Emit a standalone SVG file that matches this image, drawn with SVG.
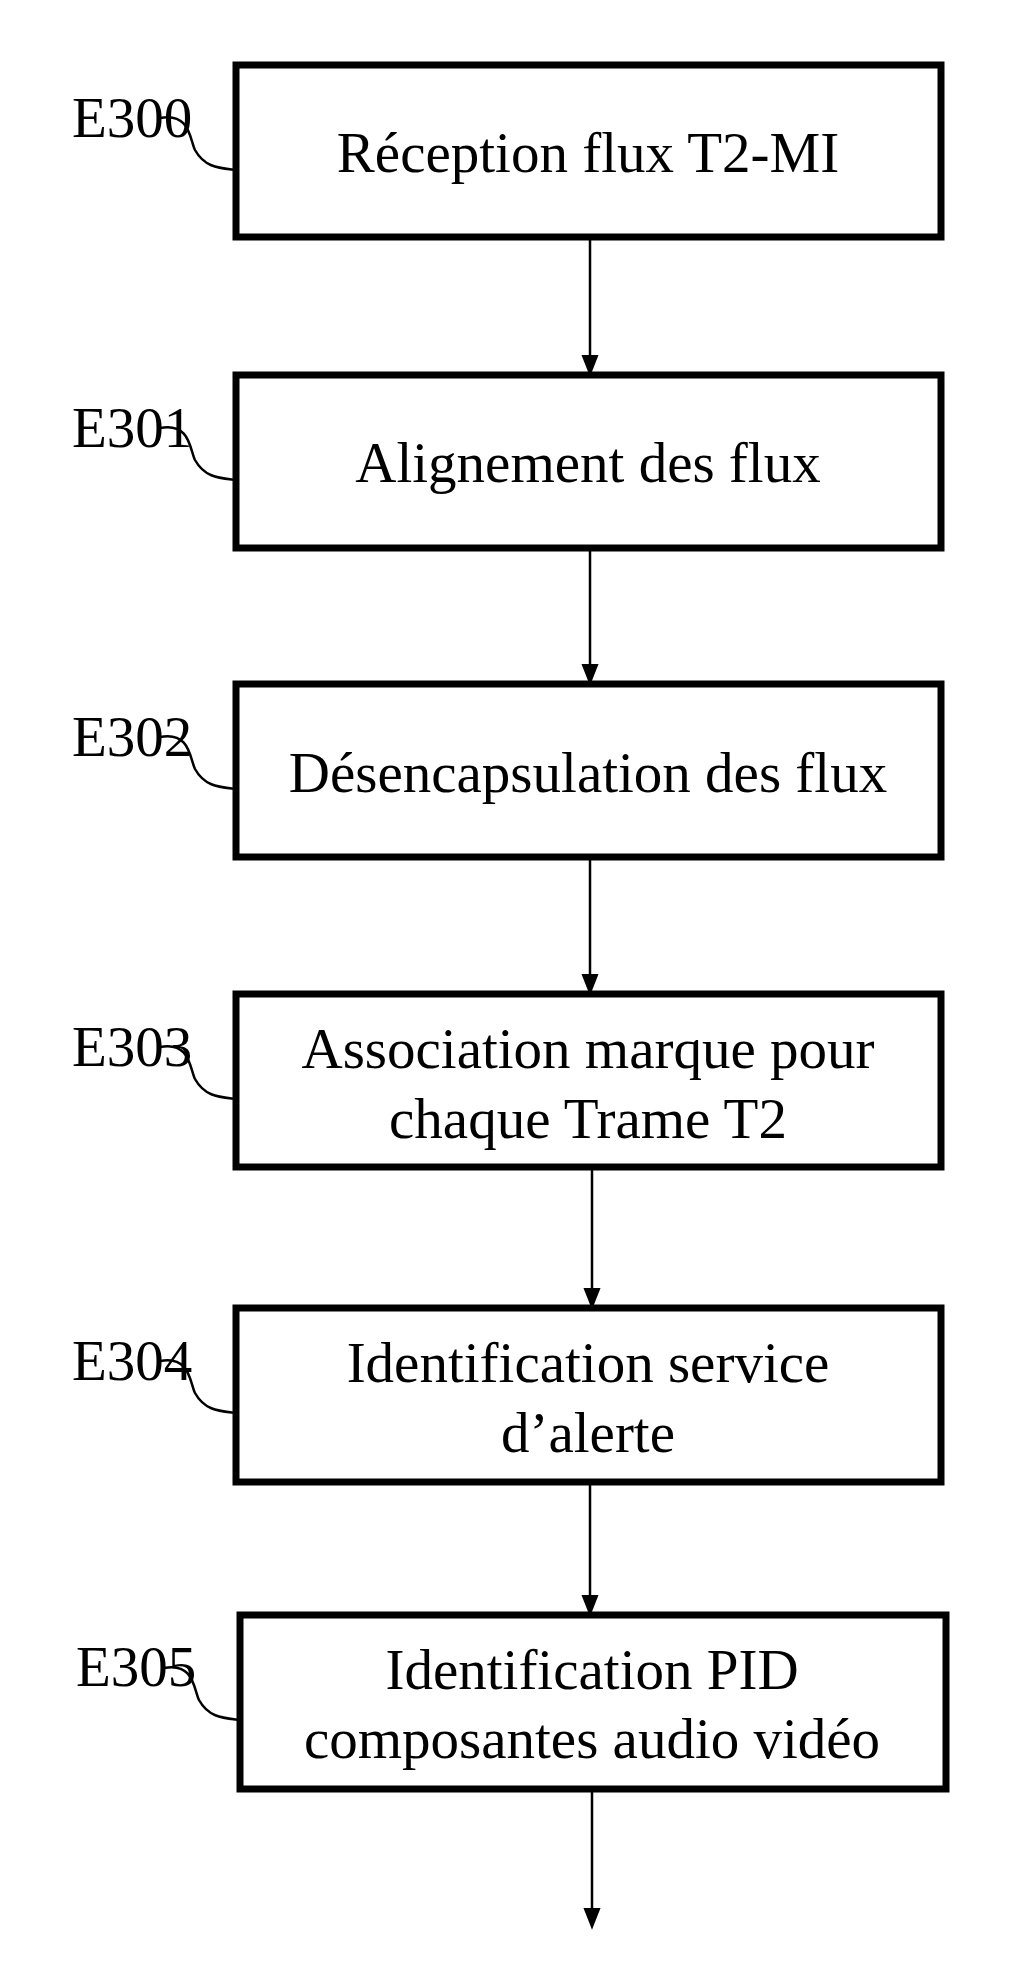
<svg xmlns="http://www.w3.org/2000/svg" width="1026" height="1961" viewBox="0 0 1026 1961">
<style>
.b{fill:#fff;stroke:#000;stroke-width:7}
.t{font-family:"Liberation Serif",serif;font-size:57px;fill:#000;text-anchor:middle}
.l{font-family:"Liberation Serif",serif;font-size:57px;fill:#000}
.c{fill:none;stroke:#000;stroke-width:2.5}
.a{stroke:#000;stroke-width:2.5}
</style>
<defs><marker id="m" markerWidth="22" markerHeight="28" refX="22" refY="11" orient="auto" markerUnits="userSpaceOnUse" viewBox="0 0 28 22"><path d="M0,0 L28,11 L0,22 Z" fill="#000"/></marker></defs>
<rect width="1026" height="1961" fill="#fff"/>
<g id="connectors">
<line class="a" x1="590" y1="240" x2="590" y2="372" marker-end="url(#m)"/>
<line class="a" x1="590" y1="551" x2="590" y2="681" marker-end="url(#m)"/>
<line class="a" x1="590" y1="860" x2="590" y2="991" marker-end="url(#m)"/>
<line class="a" x1="592" y1="1170" x2="592" y2="1305" marker-end="url(#m)"/>
<line class="a" x1="590" y1="1485" x2="590" y2="1612" marker-end="url(#m)"/>
<line class="a" x1="592" y1="1792" x2="592" y2="1925" marker-end="url(#m)"/>
</g>
<g id="n0"><rect class="b" x="236" y="65" width="705" height="172"/><text class="t" x="588" y="172">Réception flux T2-MI</text><text class="l" x="72" y="137">E300</text><path class="c" d="M160,118 C190,112 190,140 195,150 C205,168 220,168 236,170"/></g>
<g id="n1"><rect class="b" x="236" y="375" width="705" height="173"/><text class="t" x="588" y="482">Alignement des flux</text><text class="l" x="72" y="447">E301</text><path class="c" d="M160,428 C190,422 190,450 195,460 C205,478 220,478 236,480"/></g>
<g id="n2"><rect class="b" x="236" y="684" width="705" height="173"/><text class="t" x="588" y="792">Désencapsulation des flux</text><text class="l" x="72" y="756">E302</text><path class="c" d="M160,737 C190,731 190,759 195,769 C205,787 220,787 236,789"/></g>
<g id="n3"><rect class="b" x="236" y="994" width="705" height="173"/><text class="t" x="588" y="1068">Association marque pour</text><text class="t" x="588" y="1138">chaque Trame T2</text><text class="l" x="72" y="1066">E303</text><path class="c" d="M160,1047 C190,1041 190,1069 195,1079 C205,1097 220,1097 236,1099"/></g>
<g id="n4"><rect class="b" x="236" y="1308" width="705" height="174"/><text class="t" x="588" y="1382">Identification service</text><text class="t" x="588" y="1452">d’alerte</text><text class="l" x="72" y="1380">E304</text><path class="c" d="M160,1361 C190,1355 190,1383 195,1393 C205,1411 220,1411 236,1413"/></g>
<g id="n5"><rect class="b" x="240" y="1615" width="706" height="174"/><text class="t" x="592" y="1689">Identification PID</text><text class="t" x="592" y="1758">composantes audio vidéo</text><text class="l" x="76" y="1686">E305</text><path class="c" d="M164,1668 C194,1662 194,1690 199,1700 C209,1718 224,1718 240,1720"/></g>
</svg>
